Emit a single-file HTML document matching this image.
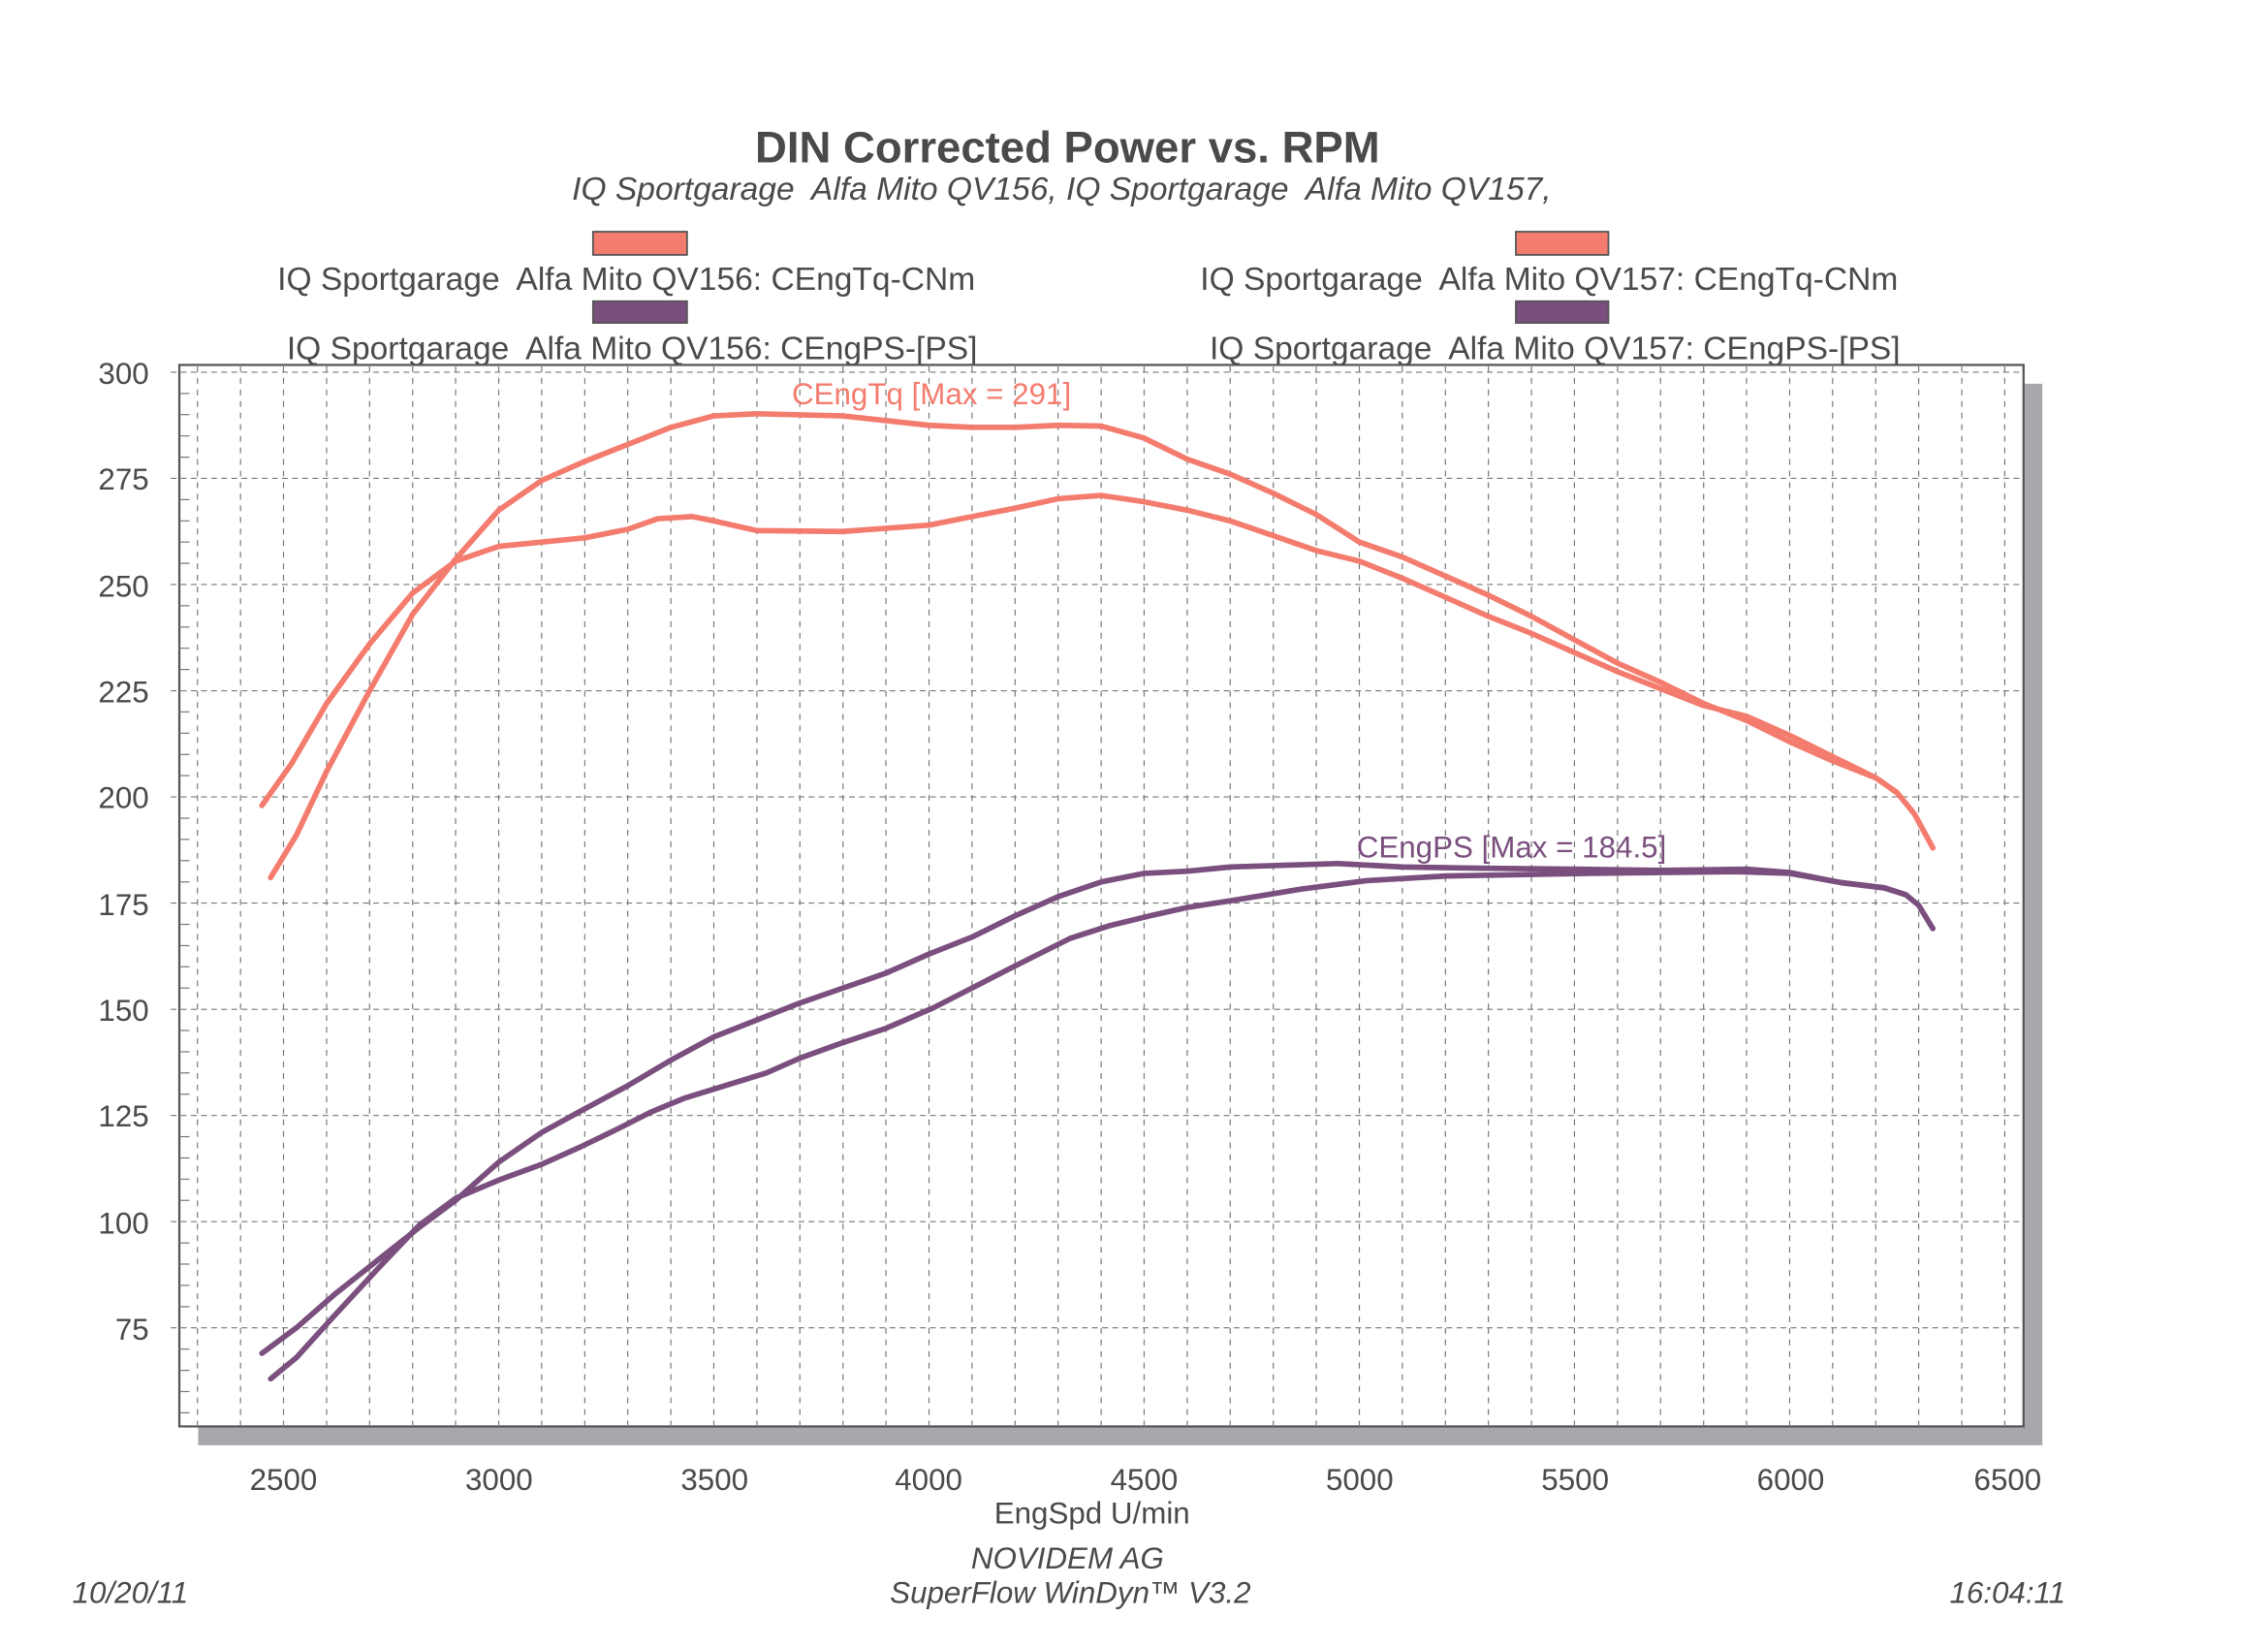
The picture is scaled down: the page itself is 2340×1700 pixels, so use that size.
<!DOCTYPE html>
<html><head><meta charset="utf-8"><style>
html,body{margin:0;padding:0;background:#fff}
svg{display:block}
text{font-family:"Liberation Sans",Arial,sans-serif;fill:#4a4a4a}
</style></head><body>
<svg id="s" width="2340" height="1700" viewBox="0 0 1568 1138" preserveAspectRatio="none" xmlns="http://www.w3.org/2000/svg">
<rect width="1568" height="1138" fill="#fff"/>
<text x="738" y="112" font-size="30.5" font-weight="bold" text-anchor="middle" fill="#555">DIN Corrected Power vs. RPM</text>
<text x="734" y="138" font-size="22.5" font-style="italic" text-anchor="middle" xml:space="preserve">IQ Sportgarage  Alfa Mito QV156, IQ Sportgarage  Alfa Mito QV157,</text>
<rect x="410" y="160" width="65" height="16" fill="#f47c6e" stroke="#555" stroke-width="1.2"/>
<rect x="410" y="208" width="65" height="15" fill="#7a4f7e" stroke="#555" stroke-width="1.2"/>
<rect x="1048" y="160" width="64" height="16" fill="#f47c6e" stroke="#555" stroke-width="1.2"/>
<rect x="1048" y="208" width="64" height="15" fill="#7a4f7e" stroke="#555" stroke-width="1.2"/>
<text x="433" y="200" font-size="22.5" text-anchor="middle" xml:space="preserve">IQ Sportgarage  Alfa Mito QV156: CEngTq-CNm</text>
<text x="437" y="248" font-size="22.5" text-anchor="middle" xml:space="preserve">IQ Sportgarage  Alfa Mito QV156: CEngPS-[PS]</text>
<text x="1071" y="200" font-size="22.5" text-anchor="middle" xml:space="preserve">IQ Sportgarage  Alfa Mito QV157: CEngTq-CNm</text>
<text x="1075" y="248" font-size="22.5" text-anchor="middle" xml:space="preserve">IQ Sportgarage  Alfa Mito QV157: CEngPS-[PS]</text>
<rect x="137" y="265" width="1275" height="733" fill="#a9a7ac"/>
<rect x="124" y="252" width="1275" height="733" fill="#fff" stroke="#555" stroke-width="1.5"/>
<g id="grid"></g>
<g font-size="21" text-anchor="end">
<text x="103" y="265">300</text><text x="103" y="338">275</text><text x="103" y="412">250</text><text x="103" y="485">225</text><text x="103" y="558">200</text><text x="103" y="632">175</text><text x="103" y="705">150</text><text x="103" y="778">125</text><text x="103" y="852">100</text><text x="103" y="925">75</text>
</g>
<g font-size="21" text-anchor="middle">
<text x="196" y="1029">2500</text><text x="345" y="1029">3000</text><text x="494" y="1029">3500</text><text x="642" y="1029">4000</text><text x="791" y="1029">4500</text><text x="940" y="1029">5000</text><text x="1089" y="1029">5500</text><text x="1238" y="1029">6000</text><text x="1388" y="1029">6500</text>
<text x="755" y="1052">EngSpd U/min</text>
<text x="738" y="1083" font-style="italic">NOVIDEM AG</text>
<text x="740" y="1107" font-style="italic">SuperFlow WinDyn™ V3.2</text>
</g>
<text x="50" y="1107" font-size="21" font-style="italic">10/20/11</text>
<text x="1428" y="1107" font-size="21" font-style="italic" text-anchor="end">16:04:11</text>
<g id="lines" fill="none" stroke-width="3.8" stroke-linejoin="round" stroke-linecap="round"></g>
<text x="644" y="279" font-size="21" text-anchor="middle" style="fill:#f47c6e">CEngTq [Max = 291]</text>
<text x="1045" y="592" font-size="21" text-anchor="middle" style="fill:#7a4f7e">CEngPS [Max = 184.5]</text>
</svg>
<script>
function X(r){return 196+(r-2500)*0.2975}
function Y(v){return 257+(300-v)*2.933}
var g=document.getElementById("grid"),h="";
for(var r=2300;r<=6500;r+=100){var x=X(r).toFixed(1);h+='<line x1="'+x+'" y1="253" x2="'+x+'" y2="984" stroke="#777" stroke-width="0.8" stroke-dasharray="4,4"/>';}
for(var v=75;v<=300;v+=25){var y=Y(v).toFixed(1);h+='<line x1="118" y1="'+y+'" x2="1398" y2="'+y+'" stroke="#777" stroke-width="0.8" stroke-dasharray="4,3"/>';}
for(var v=55;v<=300;v+=5){if(v%25){var y=Y(v).toFixed(1);h+='<line x1="124" y1="'+y+'" x2="131" y2="'+y+'" stroke="#777" stroke-width="0.8"/>';}}
g.innerHTML=h;
var tA=[[2470,181],[2530,191],[2600,206],[2700,225],[2800,243],[2900,256],[3000,267.5],[3100,274.5],[3200,279],[3300,283],[3400,287],[3500,289.7],[3600,290.2],[3800,289.7],[4000,287.5],[4100,287],[4200,287],[4300,287.5],[4400,287.3],[4500,284.5],[4600,279.5],[4700,276],[4800,271.5],[4900,266.5],[5000,260],[5100,256.5],[5200,252],[5300,247.5],[5400,242.5],[5500,237],[5600,231.5],[5700,227],[5800,222],[5900,218],[6000,213],[6100,208.5],[6200,204.5],[6250,201],[6290,196],[6333,188]];
var tB=[[2450,198],[2520,208],[2600,222],[2700,236],[2800,248],[2900,255.5],[3000,259],[3100,260],[3200,261],[3300,263],[3370,265.5],[3450,266],[3500,265],[3600,262.7],[3800,262.5],[4000,264],[4200,268],[4300,270.2],[4400,271],[4500,269.5],[4600,267.5],[4700,265],[4800,261.5],[4900,258],[5000,255.5],[5100,251.5],[5200,247],[5300,242.5],[5400,238.5],[5500,234],[5600,229.5],[5700,225.5],[5800,221.5],[5900,219],[6000,214.5],[6100,209.5],[6200,204.5],[6250,201]];
var pA=[[2450,69],[2530,75],[2620,83],[2720,91],[2820,99],[2900,105],[3000,114],[3100,121],[3190,126],[3300,132],[3400,138],[3500,143.5],[3600,147.5],[3700,151.5],[3800,155],[3900,158.5],[4000,163],[4100,167],[4200,172],[4300,176.5],[4400,180],[4500,182],[4600,182.5],[4700,183.5],[4950,184.3],[5100,183.5],[5300,183.2],[5500,183],[5700,182.7],[5900,183],[6000,182.2],[6120,179.8],[6220,178.6],[6270,177],[6300,174.5],[6333,169]];
var pB=[[2470,63],[2530,68],[2614,77.4],[2720,89],[2816,99.2],[2900,105.5],[3000,109.8],[3100,113.5],[3190,117.6],[3280,122],[3354,125.8],[3430,129],[3500,131.2],[3622,135],[3700,138.5],[3790,141.8],[3900,145.5],[4009,150.3],[4100,155],[4194,159.9],[4328,166.7],[4420,169.7],[4513,172],[4600,174],[4697,175.5],[4866,178.3],[5017,180.3],[5202,181.4],[5538,182],[5874,182.4],[6000,182],[6120,179.8],[6220,178.6],[6270,177]];
function path(d){var s="";d.forEach(function(p,i){s+=(i?"L":"M")+X(p[0]).toFixed(1)+","+Y(p[1]).toFixed(1)});return s}
var L=document.getElementById("lines"),o="";
[[tA,"#f47c6e"],[tB,"#f47c6e"],[pA,"#7a4f7e"],[pB,"#7a4f7e"]].forEach(function(a){o+='<path d="'+path(a[0])+'" stroke="'+a[1]+'"/>';});
L.innerHTML=o;
</script>
</body></html>
